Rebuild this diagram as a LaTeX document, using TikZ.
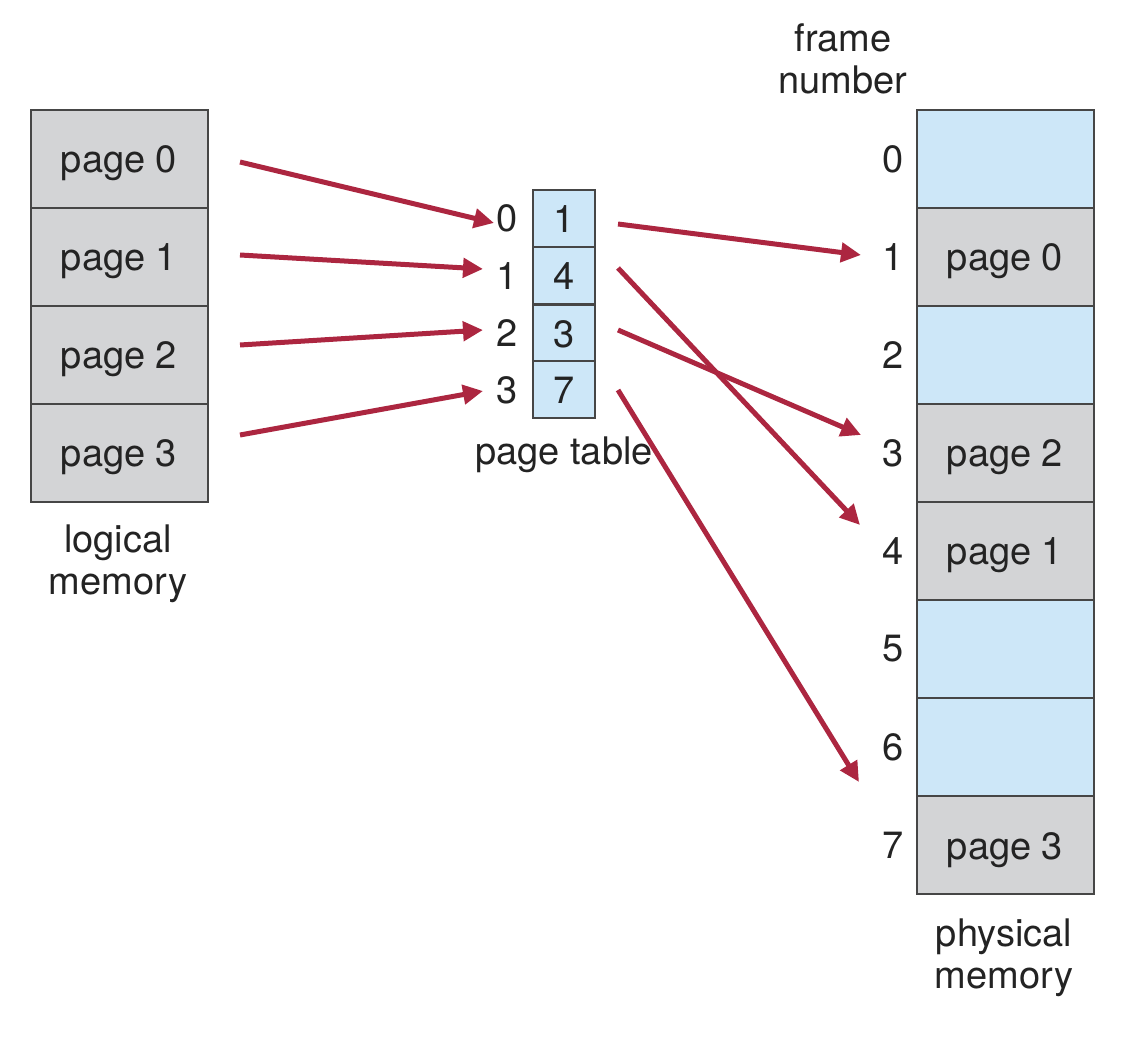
\documentclass[tikz,border=0pt]{standalone}
\usepackage{fontspec}
\setmainfont{TeX Gyre Heros}
\usetikzlibrary{arrows.meta}
\definecolor{cellgray}{RGB}{211,212,214}
\definecolor{cellblue}{RGB}{205,231,248}
\definecolor{edgegray}{RGB}{70,70,70}
\definecolor{txt}{RGB}{35,35,35}
\definecolor{arrowred}{RGB}{172,38,64}
\tikzset{
  basecell/.style={draw=edgegray, line width=2pt, inner sep=0pt, outer sep=0pt, text=txt,
    font=\fontsize{38}{42}\selectfont, text height=28pt, text depth=0pt},
  bigcell/.style={basecell, minimum width=177pt, minimum height=98pt},
  grayfill/.style={fill=cellgray},
  bluefill/.style={fill=cellblue},
  ptcell/.style={basecell, fill=cellblue, minimum width=62pt, minimum height=57pt},
  lbl/.style={text=txt, inner sep=0pt, font=\fontsize{38}{42}\selectfont},
  maparrow/.style={draw=arrowred, line width=5pt, -{Triangle[length=20pt,width=19pt]}},
}
\begin{document}
\begin{tikzpicture}[x=1pt,y=-1pt]
\useasboundingbox (0,0) rectangle (1128,1040);
% logical memory
\foreach \i/\y in {0/159,1/257,2/355,3/453}{
  \node[bigcell,grayfill] (lp\i) at (119,\y) {page \i};
}
\node[lbl, align=center, anchor=north] (lmlabel) at (118,525) {logical\\memory};
% page table
\foreach \i/\v/\y in {0/1/218.5,1/4/276,2/3/333.5,3/7/390}{
  \node[ptcell] (pt\i) at (564,\y) {\v};
  \node[lbl] (pi\i) at (507,\y) {\i};
}
\node[lbl, anchor=base] (ptlabel) at (564,465) {page table};
% physical memory
\foreach \i/\y/\s/\t in {0/159/bluefill/{},1/257/grayfill/page 0,2/355/bluefill/{},3/453/grayfill/page 2,4/551/grayfill/page 1,5/649/bluefill/{},6/747/bluefill/{},7/845/grayfill/page 3}{
  \node[bigcell,\s] (pm\i) at (1005,\y) {\t};
  \node[lbl] (fn\i) at (893,\y) {\i};
}
\node[lbl, align=center, anchor=north] (fnlabel) at (843,23) {frame\\number};
\node[lbl, align=center, anchor=north] (pmlabel) at (1004,919) {physical\\memory};
% arrow endpoints
\coordinate (ls0) at (240,162);
\coordinate (ls1) at (240,255);
\coordinate (ls2) at (240,345);
\coordinate (ls3) at (240,435);
\coordinate (le0) at (494,223);
\coordinate (le1) at (483,269);
\coordinate (le2) at (483,330);
\coordinate (le3) at (483,391);
\coordinate (rs0) at (618,224);
\coordinate (rs1) at (618,268);
\coordinate (rs2) at (618,330);
\coordinate (rs3) at (618,390);
\coordinate (re0) at (861,255);
\coordinate (re1) at (860,525);
\coordinate (re2) at (861,435);
\coordinate (re3) at (859,782);
\foreach \i in {0,1,2,3}{
  \draw[maparrow] (ls\i) -- (le\i);
  \draw[maparrow] (rs\i) -- (re\i);
}
\end{tikzpicture}
\end{document}
